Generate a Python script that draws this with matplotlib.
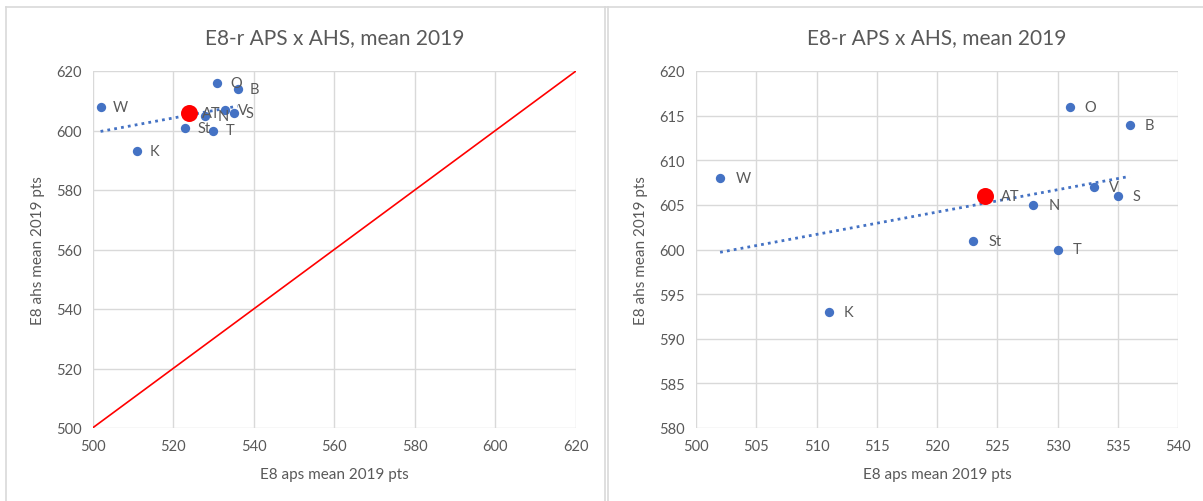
import matplotlib
matplotlib.use("Agg")
import matplotlib.pyplot as plt
import numpy as np
from matplotlib.lines import Line2D

plt.rcParams['font.family'] = ['Lato', 'DejaVu Sans']

labels = ["W", "K", "St", "N", "T", "O", "V", "S", "B"]
aps = [502, 511, 523, 528, 530, 531, 533, 535, 536]
ahs = [608, 593, 601, 605, 600, 616, 607, 606, 614]
at_label = "AT"
at_aps = 524
at_ahs = 606

title = "E8-r APS x AHS, mean 2019"
xlabel = "E8 aps mean 2019 pts"
ylabel = "E8 ahs mean 2019 pts"

left_xlim = (500, 620); left_xticks = list(range(500, 621, 20))
left_ylim = (500, 620); left_yticks = list(range(500, 621, 20))
right_xlim = (500, 540); right_xticks = list(range(500, 541, 5))
right_ylim = (580, 620); right_yticks = list(range(580, 621, 5))

BLUE = "#4472C4"
TXT = "#595959"
GRID = "#D9D9D9"

W, H = 1203, 502
fig = plt.figure(figsize=(W / 100, H / 100), dpi=100)

def fx(px):
    return px / W

def fy(py):
    return 1 - py / H

# panel borders
for x0 in (6, 605, 608):
    fig.add_artist(Line2D([fx(x0), fx(x0)], [0, fy(8)], color="#D9D9D9", lw=1.2))
fig.add_artist(Line2D([fx(6), 1], [fy(8), fy(8)], color="#D9D9D9", lw=1.2))

coef = np.polyfit(aps, ahs, 1)
xt = np.array([min(aps), max(aps)])
yt = np.polyval(coef, xt)

def setup(ax, xlim, xticks, ylim, yticks):
    ax.set_xlim(*xlim)
    ax.set_ylim(*ylim)
    ax.set_xticks(xticks)
    ax.set_yticks(yticks)
    ax.grid(True, color=GRID, lw=1)
    ax.set_axisbelow(True)
    for s in ax.spines.values():
        s.set_visible(False)
    ax.tick_params(length=0, colors=TXT, labelsize=10.5, pad=8)
    ax.set_title(title, color=TXT, fontsize=15, pad=20)
    ax.set_xlabel(xlabel, color=TXT, fontsize=11, labelpad=10)
    ax.set_ylabel(ylabel, color=TXT, fontsize=11, labelpad=8)

def draw(ax, offset):
    ax.plot(xt, yt, linestyle=(0, (1, 1.5)), color=BLUE, lw=2, zorder=2)
    ax.scatter(aps, ahs, s=45, color=BLUE, zorder=3, linewidths=0)
    ax.scatter([at_aps], [at_ahs], s=150, color="#FF0000", zorder=4, linewidths=0)
    for lab, x, y in zip(labels, aps, ahs):
        ax.annotate(lab, (x, y), xytext=(offset, 0), textcoords="offset points",
                    va="center", ha="left", color=TXT, fontsize=10.5, zorder=5)
    ax.annotate(at_label, (at_aps, at_ahs), xytext=(offset, 0), textcoords="offset points",
                va="center", ha="left", color=TXT, fontsize=10.5, zorder=5)

ax1 = fig.add_axes([fx(92.5), fy(429), fx(576 - 92.5), (429 - 72) / H])
setup(ax1, left_xlim, left_xticks, left_ylim, left_yticks)
ax1.plot(left_xlim, left_xlim, color="#FF0000", lw=1.2, zorder=2)
draw(ax1, 9)

ax2 = fig.add_axes([fx(696), fy(429), fx(1178 - 696), (429 - 72) / H])
setup(ax2, right_xlim, right_xticks, right_ylim, right_yticks)
draw(ax2, 11)

fig.savefig("out.png", dpi=100)
